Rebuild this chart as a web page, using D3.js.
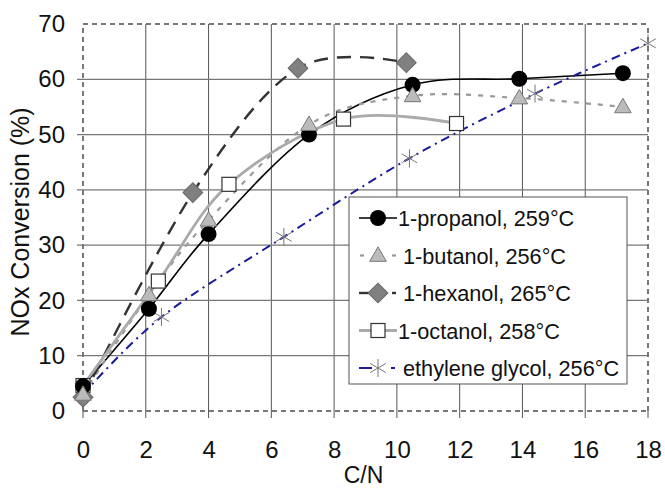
<!DOCTYPE html>
<html>
<head>
<meta charset="utf-8">
<script src="https://cdn.jsdelivr.net/npm/d3@7"></script>
<style>
  body { margin: 0; background: #fff; }
  svg { font-family: "Liberation Sans", Arial, sans-serif; }
</style>
</head>
<body>
<div id="chart"></div>
<script>
const w = 665, h = 489;

// data
const propanolX = [0, 2.1, 4, 7.2, 10.5, 13.9, 17.2];
const propanolY = [4.5, 18.5, 32, 50, 59, 60.1, 61.1];
const butanolX = [0, 2.1, 4, 7.2, 10.5, 13.9, 17.2];
const butanolY = [3, 21, 34.5, 51.8, 57, 56.6, 55];
const hexanolX = [0, 3.5, 6.85, 10.3];
const hexanolY = [2.5, 39.5, 62, 63];
const octanolX = [0, 2.4, 4.65, 8.3, 11.9];
const octanolY = [4.6, 23.5, 41, 52.8, 52];
const glycolX = [0, 2.5, 6.4, 10.4, 14.4, 18];
const glycolY = [3, 17, 31.5, 45.7, 57.4, 66.5];
const legendLabels = ["1-propanol, 259°C", "1-butanol, 256°C", "1-hexanol, 265°C", "1-octanol, 258°C", "ethylene glycol, 256°C"];
const xTicks = [0, 2, 4, 6, 8, 10, 12, 14, 16, 18];
const yTicks = [0, 10, 20, 30, 40, 50, 60, 70];

const margin = {left: 83, right: 17, top: 24, bottom: 78};

const svg = d3.select("#chart").append("svg")
  .attr("width", w).attr("height", h);

const x = d3.scaleLinear().domain([0, 18]).range([margin.left, w - margin.right]);
const y = d3.scaleLinear().domain([0, 70]).range([h - margin.bottom, margin.top]);

// grid
svg.append("g").selectAll("line").data(xTicks.slice(1, -1)).join("line")
  .attr("x1", d => x(d)).attr("x2", d => x(d))
  .attr("y1", y(70)).attr("y2", y(0) + 7)
  .attr("stroke", "#555").attr("stroke-width", 1);
svg.append("g").selectAll("line").data(yTicks.slice(1, -1)).join("line")
  .attr("x1", x(0) - 6).attr("x2", x(18))
  .attr("y1", d => y(d)).attr("y2", d => y(d))
  .attr("stroke", "#777").attr("stroke-width", 1.3);

// frame (dashed)
const frame = [[x(0), y(0), x(18), y(0)], [x(0), y(70), x(18), y(70)],
               [x(0), y(0), x(0), y(70)], [x(18), y(0), x(18), y(70)]];
svg.append("g").selectAll("line").data(frame).join("line")
  .attr("x1", d => d[0]).attr("y1", d => d[1]).attr("x2", d => d[2]).attr("y2", d => d[3])
  .attr("stroke", "#777").attr("stroke-width", 2).attr("stroke-dasharray", "5,4");
svg.append("g").selectAll("line").data([0, 18]).join("line")
  .attr("x1", d => x(d)).attr("x2", d => x(d)).attr("y1", y(0)).attr("y2", y(0) + 7)
  .attr("stroke", "#555");

// axes
const xAxis = d3.axisBottom(x).tickValues(xTicks).tickSize(0).tickPadding(30);
svg.append("g").attr("transform", "translate(0," + y(0) + ")").call(xAxis)
  .call(g => g.select(".domain").remove())
  .selectAll("text").attr("font-size", 24).attr("fill", "#111").attr("font-family", "Liberation Sans, Arial");
const yAxis = d3.axisLeft(y).tickValues(yTicks).tickSize(0).tickPadding(18);
svg.append("g").attr("transform", "translate(" + x(0) + ",0)").call(yAxis)
  .call(g => g.select(".domain").remove())
  .selectAll("text").attr("font-size", 24).attr("fill", "#111").attr("font-family", "Liberation Sans, Arial");

svg.append("text").attr("x", (x(0) + x(18)) / 2 - 2).attr("y", 483)
  .attr("text-anchor", "middle").attr("font-size", 23).attr("fill", "#111").text("C/N");
svg.append("text").attr("transform", "translate(29,222) rotate(-90)")
  .attr("text-anchor", "middle").attr("font-size", 25).attr("fill", "#111").text("NOx Conversion (%)");

const series = [
  {xs: propanolX, ys: propanolY, stroke: "#000", width: 1.6, dash: null, marker: "circle"},
  {xs: butanolX, ys: butanolY, stroke: "#999", width: 2.2, dash: "5,7", marker: "triangle"},
  {xs: hexanolX, ys: hexanolY, stroke: "#333", width: 2.4, dash: "14,9", marker: "diamond"},
  {xs: octanolX, ys: octanolY, stroke: "#aaa", width: 2.8, dash: null, marker: "square"},
  {xs: glycolX, ys: glycolY, stroke: "#1a1a9a", width: 2, dash: "9,5,2,5", marker: "asterisk"}
];

const line = d3.line().x(d => x(d[0])).y(d => y(d[1])).curve(d3.curveCatmullRom.alpha(0));

function drawMarker(g, type, cx, cy) {
  if (type === "circle") {
    g.append("circle").attr("cx", cx).attr("cy", cy).attr("r", 8).attr("fill", "#000");
  } else if (type === "triangle") {
    g.append("path").attr("d", d3.symbol(d3.symbolTriangle, 120)()).attr("transform", "translate(" + cx + "," + (cy + 1) + ")")
      .attr("fill", "#bbb").attr("stroke", "#777").attr("stroke-width", 1);
  } else if (type === "diamond") {
    g.append("rect").attr("x", -7).attr("y", -7).attr("width", 14).attr("height", 14)
      .attr("transform", "translate(" + cx + "," + cy + ") rotate(45)")
      .attr("fill", "#808080").attr("stroke", "#666").attr("stroke-width", 1);
  } else if (type === "square") {
    g.append("rect").attr("x", cx - 7).attr("y", cy - 7).attr("width", 14).attr("height", 14)
      .attr("fill", "#fff").attr("stroke", "#333").attr("stroke-width", 1.2);
  } else if (type === "asterisk") {
    const r = 9;
    [0, 60, 120].forEach(a => {
      const rad = (a + 90) * Math.PI / 180;
      g.append("line").attr("x1", cx - r * Math.cos(rad)).attr("y1", cy - r * Math.sin(rad))
        .attr("x2", cx + r * Math.cos(rad)).attr("y2", cy + r * Math.sin(rad))
        .attr("stroke", "#777").attr("stroke-width", 1);
    });
  }
}

// lines first
series.forEach(s => {
  const pts = s.xs.map((v, i) => [v, s.ys[i]]);
  svg.append("path").datum(pts).attr("fill", "none")
    .attr("stroke", s.stroke).attr("stroke-width", s.width)
    .attr("stroke-dasharray", s.dash).attr("d", line);
});
// markers
const markerOrder = [4, 3, 2, 0, 1];
markerOrder.forEach(k => {
  const s = series[k];
  const g = svg.append("g");
  s.xs.forEach((v, i) => drawMarker(g, s.marker, x(v), y(s.ys[i])));
});

// legend
const lg = svg.append("g");
lg.append("rect").attr("x", 349).attr("y", 197).attr("width", 278).attr("height", 187)
  .attr("fill", "#fff").attr("stroke", "#555").attr("stroke-width", 1);
series.forEach((s, i) => {
  const ly = 218 + i * 37.5;
  if (s.dash) {
    const segs = i === 1 ? [[360, 364], [392, 396]] : i === 2 ? [[359, 372], [392, 396]] : [[359, 372], [391, 395]];
    segs.forEach(sg => lg.append("line").attr("x1", sg[0]).attr("x2", sg[1]).attr("y1", ly).attr("y2", ly)
      .attr("stroke", s.stroke).attr("stroke-width", s.width));
  } else {
    lg.append("line").attr("x1", 359).attr("x2", 397).attr("y1", ly).attr("y2", ly)
      .attr("stroke", s.stroke).attr("stroke-width", s.width);
  }
  drawMarker(lg, s.marker, 378, ly);
  lg.append("text").attr("x", i === 0 || i === 3 ? 398 : 403).attr("y", ly + 8)
    .attr("font-size", 21.7).attr("fill", "#111").text(legendLabels[i]);
});
</script>
</body>
</html>
